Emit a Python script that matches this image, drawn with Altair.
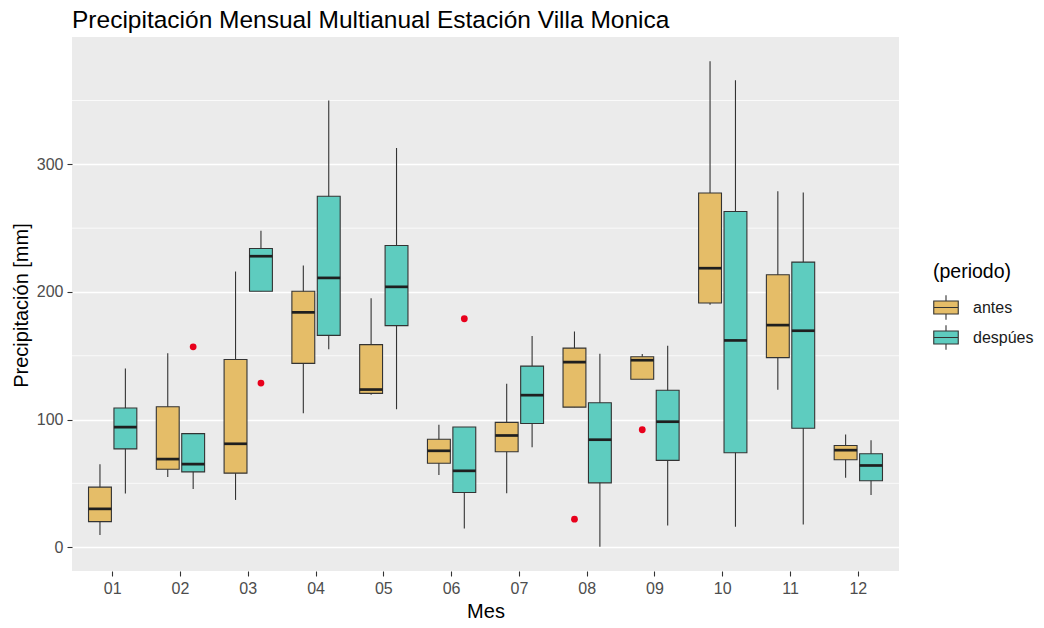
import altair as alt
import pandas as pd

meses = ["01", "02", "03", "04", "05", "06", "07", "08", "09", "10", "11", "12"]
periodos = ["antes", "despúes"]

# antes
antes_min = [9.5, 55, 37, 105, 119.4, 56.6, 42.2, 109.7, 131.6, 189.9, 123.4, 54.4]
antes_q1 = [20, 61, 58, 144, 120.5, 65.8, 74.7, 109.7, 131.6, 191.3, 148.5, 68.5]
antes_med = [30, 69, 81, 184, 123.5, 75.5, 87.5, 145, 146.5, 218.6, 174, 76]
antes_q3 = [47, 110, 147, 200.6, 158.7, 84.5, 97.8, 156, 149.2, 277.5, 213.5, 79.7]
antes_max = [65, 152, 216, 220.7, 195, 95.9, 128, 169, 151.4, 380.8, 278.9, 88.2]

# despúes
desp_min = [42, 45.5, 200.6, 155, 108, 14.6, 78.3, 0.3, 17, 16, 17.7, 40.8]
desp_q1 = [77, 59, 200.6, 166, 173.6, 42.8, 96.9, 50.4, 68, 74, 93.2, 52]
desp_med = [94, 65, 228, 211, 204, 59.8, 119.1, 84.2, 98.3, 162, 169.6, 64]
desp_q3 = [109, 89, 234, 275, 236.4, 94.2, 141.9, 113.2, 122.9, 263, 223.4, 73.2]
desp_max = [140, 89, 248, 350, 312.8, 94.2, 165.4, 151.6, 157.9, 366, 278, 83.7]

# outliers
out_mes = ["02", "03", "06", "08", "09"]
out_per = ["despúes", "despúes", "despúes", "antes", "antes"]
out_val = [157, 128.6, 179, 21.9, 92]

minor_grid = [50, 150, 250, 350]
major_ticks = [0, 100, 200, 300]

rows = []
for i, m in enumerate(meses):
    rows.append(dict(Mes=m, periodo="antes", lo=antes_min[i], q1=antes_q1[i],
                     med=antes_med[i], q3=antes_q3[i], hi=antes_max[i]))
    rows.append(dict(Mes=m, periodo="despúes", lo=desp_min[i], q1=desp_q1[i],
                     med=desp_med[i], q3=desp_q3[i], hi=desp_max[i]))
df = pd.DataFrame(rows)
df_out = pd.DataFrame(dict(Mes=out_mes, periodo=out_per, v=out_val))
df_minor = pd.DataFrame(dict(v=minor_grid))

FONT = "Liberation Sans"
YT = "Precipitación [mm]"
ydom = [-18.7, 399.8]

yaxis = alt.Axis(title=YT, values=major_ticks, titleX=-44.5, titleY=268,
                 titleBaseline="alphabetic", titleAlign="center")
xaxis = alt.Axis(title="Mes", labelAngle=0, titleY=46, titleBaseline="alphabetic")

yscale = alt.Scale(domain=ydom, nice=False, zero=False)
xenc = alt.X("Mes:N", sort=meses, scale=alt.Scale(paddingInner=0, paddingOuter=0.1), axis=xaxis)
xoff = alt.XOffset("periodo:N", sort=periodos,
                   scale=alt.Scale(domain=periodos, paddingInner=0.1, paddingOuter=0.3833))

box_path = "M-1,-0.53L1,-0.53L1,0.53L-1,0.53Z M-1,0L1,0 M0,-1L0,-0.53 M0,0.53L0,1"

minor = alt.Chart(df_minor).mark_rule(color="white", strokeWidth=0.75).encode(
    y=alt.Y("v:Q", scale=yscale, axis=yaxis)
)

whisk = alt.Chart(df).mark_rule(color="#333333", strokeWidth=1.1).encode(
    x=xenc, xOffset=xoff,
    y=alt.Y("lo:Q", scale=yscale, axis=yaxis), y2="hi:Q"
)

boxes = alt.Chart(df).mark_bar(stroke="#333333", strokeWidth=1.1, opacity=1).encode(
    x=xenc, xOffset=xoff,
    y=alt.Y("q1:Q", scale=yscale, axis=yaxis), y2="q3:Q",
    color=alt.Color("periodo:N", sort=periodos,
                    scale=alt.Scale(domain=periodos, range=["#E5BD68", "#5ECCBF"]),
                    legend=alt.Legend(title="(periodo)", orient="none", legendX=861, legendY=226,
                                      symbolType=box_path, symbolSize=600,
                                      symbolStrokeColor="#333333", symbolStrokeWidth=1.1,
                                      symbolOpacity=1,
                                      labelFontSize=16, labelFont=FONT, labelColor="#1a1a1a",
                                      titleFontSize=19.5, titleFont=FONT, titleFontWeight="normal",
                                      titleColor="#000000", labelOffset=14, rowPadding=0,
                                      titlePadding=12, padding=0))
)

medians = alt.Chart(df).mark_tick(color="#1f1f1f", thickness=2.7, size=22.9, opacity=1).encode(
    x=xenc, xOffset=xoff,
    y=alt.Y("med:Q", scale=yscale, axis=yaxis)
)

outl = alt.Chart(df_out).mark_circle(color="#E8001C", size=46, opacity=1).encode(
    x=xenc, xOffset=xoff,
    y=alt.Y("v:Q", scale=yscale, axis=yaxis)
)

chart = alt.layer(minor, whisk, boxes, medians, outl).properties(
    width=827, height=534,
    autosize=alt.AutoSizeParams(type="none"),
    padding={"left": 64, "top": 29, "right": 136, "bottom": 49},
    title=alt.TitleParams("Precipitación Mensual Multianual Estación Villa Monica",
                          anchor="start", frame="group", fontSize=24.5, font=FONT,
                          fontWeight="normal", color="#000000", offset=12.7,
                          baseline="alphabetic", dy=28)
).configure_view(
    fill="#EBEBEB", strokeWidth=0
).configure_axis(
    domain=False, tickColor="#333333", tickSize=5, tickWidth=1.1,
    labelColor="#4D4D4D", labelFontSize=16, labelFont=FONT, labelPadding=4,
    titleFont=FONT, titleFontSize=20, titleFontWeight="normal", titleColor="#000000",
    gridColor="white", gridWidth=1.5
)

chart.save("out.html", embed_options={"renderer": "svg", "actions": False})
